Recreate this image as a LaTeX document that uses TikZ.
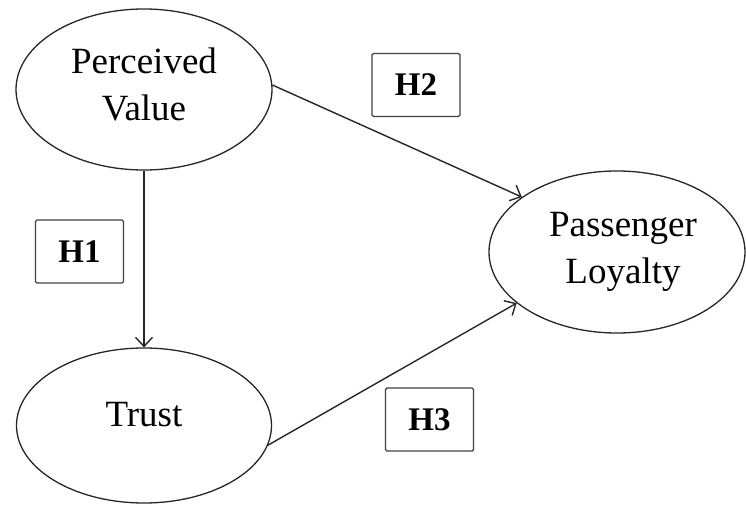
\documentclass[tikz,border=0pt]{standalone}
\usepackage{fontspec}
\setmainfont{Liberation Serif}
\usetikzlibrary{shapes.geometric,arrows.meta}
\begin{document}
\begin{tikzpicture}[x=1pt,y=-1pt,
  construct/.style={draw=black!85,line width=1.3pt,ellipse,inner sep=0pt,align=center,
    font=\fontsize{37}{47}\selectfont},
  hbox/.style={draw=black!75,line width=1.4pt,rounded corners=1.5pt,minimum width=88pt,
    minimum height=63pt,inner sep=0pt,font=\fontsize{33}{40}\selectfont\bfseries},
  link/.style={draw=black!85,line width=1.4pt,-{Straight Barb[length=9pt,width=17pt,line width=1.4pt]}}]
\useasboundingbox (0,0) rectangle (746,505);
\node[construct,minimum width=256pt,minimum height=161pt,text depth=10pt] (pv) at (144,89.5) {Perceived\\Value};
\node[construct,minimum width=255pt,minimum height=155pt,text depth=22pt] (tr) at (144,425.5) {Trust};
\node[construct,minimum width=256pt,minimum height=162pt] (pl) at (617,252) {\hspace*{12pt}Passenger\\\hspace*{12pt}Loyalty};
\node[hbox] (h2) at (416,85) {H2};
\node[hbox] (h1) at (79.5,251.5) {H1};
\node[hbox] (h3) at (429.5,419.5) {H3};
\draw[link] (pv.south) -- (tr.north);
\draw[link] (pv.2.5) -- (pl.150);
\draw[link] (tr.-9) -- (pl.207);
\end{tikzpicture}
\end{document}
